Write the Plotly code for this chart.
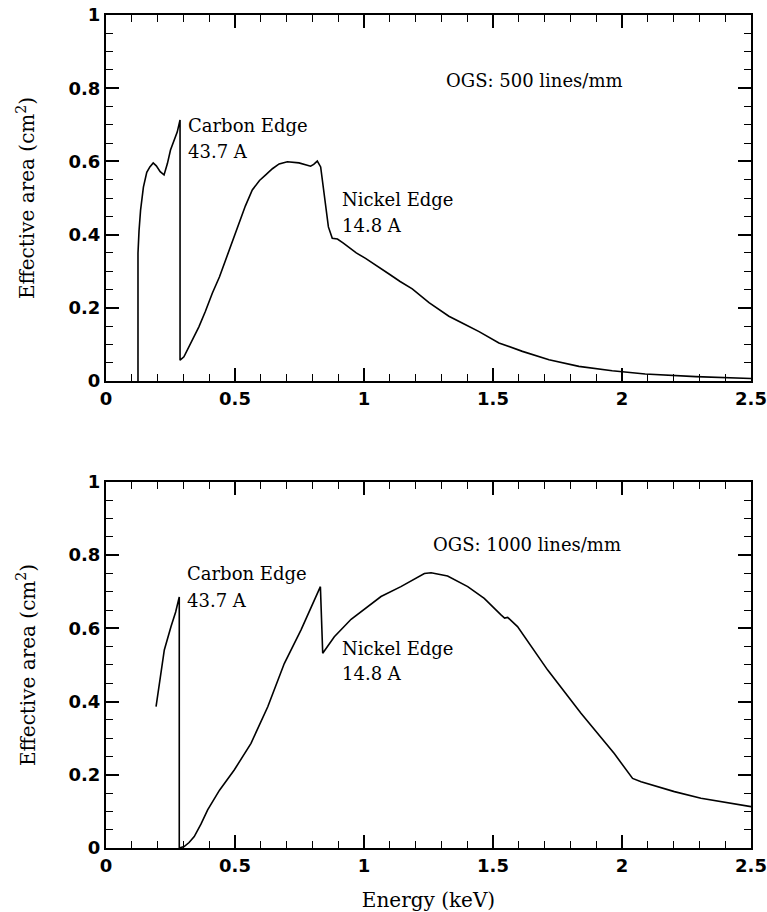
import plotly.graph_objects as go

# OGS effective area, 500 lines/mm grating
energy_500 = [0.124, 0.124, 0.128, 0.134, 0.145, 0.158, 0.170, 0.183, 0.195, 0.210,
              0.225, 0.238, 0.250, 0.264, 0.276, 0.287, 0.287, 0.302, 0.322, 0.340,
              0.360, 0.385, 0.412, 0.440, 0.464, 0.490, 0.516, 0.540, 0.567, 0.595,
              0.619, 0.645, 0.671, 0.703, 0.748, 0.793, 0.805, 0.819, 0.832, 0.845,
              0.862, 0.877, 0.897, 0.920, 0.942, 0.970, 1.006, 1.058, 1.100, 1.140,
              1.187, 1.252, 1.329, 1.390, 1.446, 1.523, 1.614, 1.717, 1.833, 1.962,
              2.090, 2.286, 2.500]
area_500 = [0.0, 0.35, 0.41, 0.467, 0.53, 0.57, 0.585, 0.596, 0.588, 0.572,
            0.563, 0.594, 0.631, 0.658, 0.68, 0.713, 0.057, 0.066, 0.094, 0.12,
            0.148, 0.19, 0.24, 0.285, 0.33, 0.38, 0.431, 0.478, 0.522, 0.548,
            0.563, 0.58, 0.593, 0.599, 0.596, 0.587, 0.592, 0.601, 0.585, 0.513,
            0.421, 0.39, 0.388, 0.377, 0.364, 0.35, 0.335, 0.312, 0.291, 0.272,
            0.252, 0.214, 0.177, 0.155, 0.135, 0.104, 0.081, 0.058, 0.040, 0.028,
            0.019, 0.012, 0.007]

# OGS effective area, 1000 lines/mm grating
energy_1000 = [0.194, 0.21, 0.226, 0.252, 0.27, 0.284, 0.284, 0.303, 0.322, 0.342,
               0.368, 0.394, 0.44, 0.497, 0.562, 0.627, 0.691, 0.756, 0.80, 0.831,
               0.840, 0.885, 0.95, 1.014, 1.066, 1.143, 1.234, 1.26, 1.324, 1.402,
               1.466, 1.531, 1.545, 1.557, 1.595, 1.712, 1.841, 1.97, 2.041, 2.074,
               2.203, 2.306, 2.5]
area_1000 = [0.386, 0.47, 0.541, 0.605, 0.645, 0.686, 0.0, 0.004, 0.015, 0.031,
             0.065, 0.104, 0.158, 0.213, 0.286, 0.386, 0.504, 0.596, 0.664, 0.714,
             0.532, 0.577, 0.625, 0.659, 0.687, 0.714, 0.75, 0.752, 0.743, 0.714,
             0.682, 0.637, 0.628, 0.63, 0.605, 0.486, 0.368, 0.258, 0.19, 0.181,
             0.154, 0.136, 0.113]

x_ticks = [0, 0.5, 1, 1.5, 2, 2.5]
x_tick_labels = ["0", "0.5", "1", "1.5", "2", "2.5"]
y_ticks = [0, 0.2, 0.4, 0.6, 0.8, 1]
y_tick_labels = ["0", "0.2", "0.4", "0.6", "0.8", "1"]

panel_titles = ["OGS: 500 lines/mm", "OGS: 1000 lines/mm"]
edge_labels = [("Carbon Edge", "43.7 A"), ("Nickel Edge", "14.8 A")]

SERIF = "DejaVu Serif"
TICKFONT = dict(family="DejaVu Sans", size=18, color="black", weight="bold")
INK = "black"

fig = go.Figure()
fig.add_trace(go.Scatter(x=energy_500, y=area_500, mode="lines",
                         line=dict(color=INK, width=1.6), xaxis="x", yaxis="y",
                         showlegend=False, hoverinfo="skip"))
fig.add_trace(go.Scatter(x=energy_1000, y=area_1000, mode="lines",
                         line=dict(color=INK, width=1.6), xaxis="x2", yaxis="y2",
                         showlegend=False, hoverinfo="skip"))

def xaxis_style(anchor, title=None):
    d = dict(range=[0, 2.5], anchor=anchor, domain=[0, 1], automargin=False,
             tickmode="array", tickvals=x_ticks, ticktext=x_tick_labels,
             ticks="inside", ticklen=13, tickwidth=1.5, tickcolor=INK,
             minor=dict(dtick=0.1, ticks="inside", ticklen=7, tickwidth=1.3, tickcolor=INK),
             showline=True, linecolor=INK, linewidth=2, mirror="allticks",
             showgrid=False, zeroline=False, tickfont=TICKFONT)
    if title:
        d["title"] = dict(text=title, font=dict(family=SERIF, size=20, color=INK), standoff=20)
    return d

def yaxis_style(anchor, domain):
    return dict(range=[0, 1], anchor=anchor, domain=domain, automargin=False,
                tickmode="array", tickvals=y_ticks, ticktext=y_tick_labels,
                ticks="inside", ticklen=13, tickwidth=1.5, tickcolor=INK,
                minor=dict(dtick=0.05, ticks="inside", ticklen=7, tickwidth=1.3, tickcolor=INK),
                showline=True, linecolor=INK, linewidth=2, mirror="allticks",
                showgrid=False, zeroline=False, tickfont=TICKFONT,
                title=dict(text="Effective area (cm<sup>2</sup>)",
                           font=dict(family=SERIF, size=20, color=INK), standoff=28))

top_dom = [0.5606, 1.0]
bot_dom = [0.0, 0.4394]

fig.update_layout(
    width=767, height=912,
    margin=dict(l=106, r=16, t=15, b=64),
    paper_bgcolor="white", plot_bgcolor="white",
    xaxis=xaxis_style("y"),
    yaxis=yaxis_style("x", top_dom),
    xaxis2=xaxis_style("y2", "Energy (keV)"),
    yaxis2=yaxis_style("x2", bot_dom),
)

def note(text, x, y, xref, yref):
    fig.add_annotation(text=text, x=x, y=y, xref=xref, yref=yref,
                       xanchor="left", yanchor="middle", showarrow=False,
                       font=dict(family=SERIF, size=18, color=INK))

# top panel labels
note(edge_labels[0][0], 0.31, 0.697, "x", "y")
note(edge_labels[0][1], 0.31, 0.626, "x", "y")
note(edge_labels[1][0], 0.907, 0.495, "x", "y")
note(edge_labels[1][1], 0.907, 0.426, "x", "y")
note(panel_titles[0], 1.31, 0.822, "x", "y")

# bottom panel labels
note(edge_labels[0][0], 0.306, 0.749, "x2", "y2")
note(edge_labels[0][1], 0.306, 0.675, "x2", "y2")
note(edge_labels[1][0], 0.907, 0.546, "x2", "y2")
note(edge_labels[1][1], 0.907, 0.478, "x2", "y2")
note(panel_titles[1], 1.26, 0.828, "x2", "y2")

fig.write_html("out.html")
